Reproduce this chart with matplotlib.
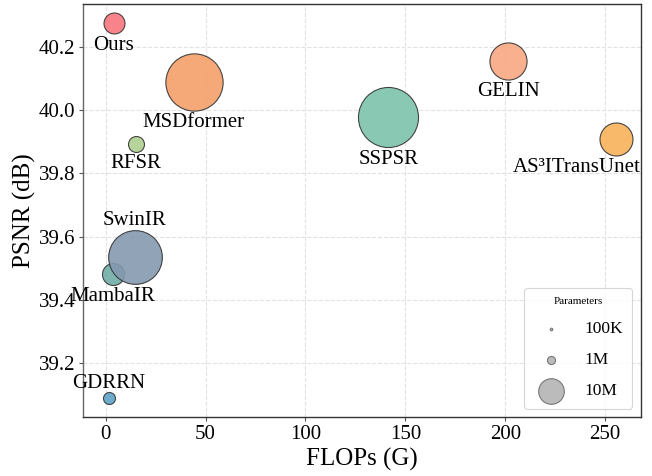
import matplotlib
matplotlib.use("Agg")
import matplotlib.pyplot as plt
import numpy as np

plt.rcParams['font.family'] = ['Liberation Serif', 'DejaVu Serif']

methods = ["Ours", "MSDformer", "RFSR", "MambaIR", "SwinIR", "GDRRN", "SSPSR", "GELIN", "AS³ITransUnet"]
flops = [4.0, 44.1, 15.0, 3.5, 14.5, 1.5, 141.4, 201.5, 255.6]
psnr = [40.277, 40.089, 39.893, 39.482, 39.536, 39.087, 39.978, 40.157, 39.909]
params_m = [6.7, 50.0, 3.9, 7.4, 44.0, 2.2, 55.0, 21.0, 16.6]
colors = ["#F8767D", "#F4A06A", "#AED08E", "#70ADA6", "#8499AF", "#5FA3C7", "#7CC4AC", "#F9A882", "#F8B35A"]
label_side = [-1, -1, -1, -1, 1, 1, -1, -1, -1]  # -1 below, +1 above
label_ha = ["center"] * 8 + ["right"]

legend_vals = [0.1, 1, 10]
legend_labels = ["100K", "1M", "10M"]

SCALE = 34.0

fig = plt.figure(figsize=(6.52, 4.76), dpi=100)
ax = fig.add_axes([83/652, 1-417.3/476, (641-83)/652, (417.3-4)/476])

sizes = [SCALE * p for p in params_m]
for xi, yi, s, c, name, side, ha in zip(flops, psnr, sizes, colors, methods, label_side, label_ha):
    ax.scatter(xi, yi, s=s, color=c, edgecolor="#333333", linewidth=0.8, alpha=0.9, zorder=3)
    r_pt = np.sqrt(s) / 2
    off = side * (r_pt + 7.5) - 1.0
    dx = 17.5 if ha == "right" else 0
    ax.annotate(name, (xi, yi), xytext=(dx, off), textcoords="offset points",
                ha=ha, va="center", fontsize=15, zorder=4)

ax.set_xlim(-11.4, 268)
ax.set_ylim(39.027, 40.337)
ax.set_xticks([0, 50, 100, 150, 200, 250])
ax.set_yticks([39.2, 39.4, 39.6, 39.8, 40.0, 40.2])
ax.tick_params(labelsize=15, length=3, pad=2.5, color="#555555")
ax.grid(True, linestyle="--", color="#e2e2e2", linewidth=0.8, zorder=0)
ax.set_axisbelow(True)
for sp in ax.spines.values():
    sp.set_color("#333333")
    sp.set_linewidth(1.0)
ax.spines["left"].set_color("#666666")

ax.set_xlabel("FLOPs (G)", fontsize=18, labelpad=3)
ax.set_ylabel("PSNR (dB)", fontsize=18, labelpad=2)

handles = [ax.scatter([], [], s=SCALE * v, color="#bbbbbb", edgecolor="#777777", linewidth=0.8)
           for v in legend_vals]
leg = ax.legend(handles, legend_labels, title="Parameters", loc="lower right",
                fontsize=12.5, title_fontsize=8, labelspacing=0.85, borderpad=0.55,
                handletextpad=0.9, handlelength=2.0, frameon=True, fancybox=True)
leg.get_frame().set_edgecolor("#cccccc")
leg.get_frame().set_linewidth(0.8)

fig.savefig("out.png", dpi=100)
